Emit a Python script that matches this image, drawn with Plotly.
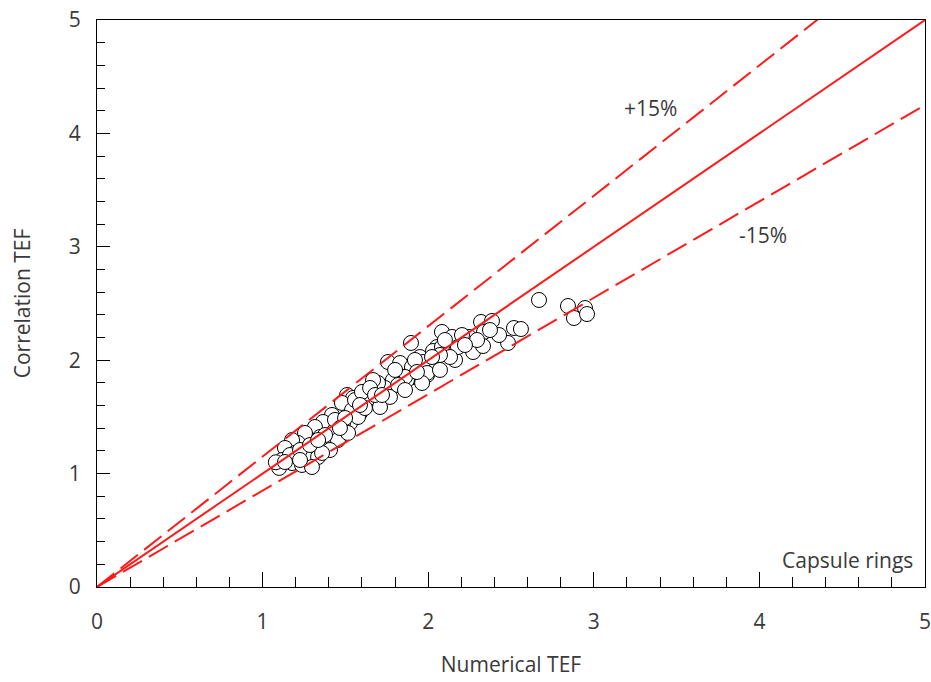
import plotly.graph_objects as go

# Numerical vs correlation thermal enhancement factor (TEF), capsule rings
numerical_tef = [
    2.669, 2.844, 2.947, 2.880, 2.959,
    1.896, 2.083, 2.319, 2.385, 2.337, 2.518, 2.560, 2.482, 2.428, 2.271,
    2.331, 2.246, 2.144, 2.162, 2.114, 2.053, 2.029, 1.950, 1.999, 1.908,
    1.993, 1.848, 1.872, 2.083, 2.180, 2.295, 2.132, 2.071, 1.969,
    1.757, 1.830, 2.023, 1.902, 1.993, 2.071, 1.963, 1.860, 1.787, 1.739,
    1.667, 1.697, 1.769, 1.630, 1.510, 1.546, 1.588, 1.486, 1.528, 1.709,
    1.667,
    1.546, 1.618, 1.479, 1.540, 1.419, 1.365, 1.486, 1.437, 1.316, 1.256,
    1.347, 1.389, 1.455, 1.516, 1.274, 1.214, 1.178, 1.135, 1.196, 1.256,
    1.335, 1.407, 1.117, 1.178, 1.100, 1.238, 1.298, 1.080, 1.359, 1.576,
    1.618,
    1.165, 1.226, 1.286, 1.377, 1.437, 1.498, 1.558, 1.600, 1.649, 1.679,
    1.800, 1.818, 1.920, 1.932, 2.101, 2.204, 2.222, 2.373, 1.226, 1.135,
    1.335, 1.467, 1.588, 1.721, 1.860,
]
correlation_tef = [
    2.531, 2.478, 2.460, 2.372, 2.407,
    2.152, 2.249, 2.337, 2.346, 2.249, 2.284, 2.275, 2.152, 2.222, 2.072,
    2.125, 2.205, 2.205, 2.002, 2.063, 2.116, 2.081, 2.028, 1.940, 1.852,
    1.869, 1.940, 1.825, 2.116, 2.116, 2.178, 2.028, 2.046, 1.984,
    1.984, 1.975, 2.028, 1.940, 1.887, 1.914, 1.799, 1.852, 1.825, 1.755,
    1.711, 1.799, 1.676, 1.649, 1.693, 1.605, 1.534, 1.534, 1.446, 1.587,
    1.825,
    1.667, 1.693, 1.623, 1.561, 1.517, 1.455, 1.446, 1.384, 1.411, 1.358,
    1.323, 1.270, 1.296, 1.358, 1.235, 1.270, 1.296, 1.226, 1.182, 1.146,
    1.146, 1.208, 1.120, 1.093, 1.050, 1.076, 1.058, 1.100, 1.182, 1.499,
    1.578,
    1.164, 1.208, 1.252, 1.340, 1.473, 1.490, 1.649, 1.720, 1.755, 1.693,
    1.914, 1.781, 2.002, 1.896, 2.178, 2.222, 2.134, 2.266, 1.120, 1.102,
    1.296, 1.402, 1.605, 1.693, 1.737,
]

# Reference lines: perfect agreement and the ±15 % band
ref_x = [0, 5]
ref_factors = [1.0, 1.15, 0.85]
ref_dash = ["solid", "22px,8px", "22px,8px"]

FONT = "Open Sans"
TEXT = "#3a3a3a"

fig = go.Figure()

fig.add_trace(go.Scatter(
    x=numerical_tef, y=correlation_tef, mode="markers",
    marker=dict(size=15, color="white", line=dict(color="black", width=1)),
    showlegend=False,
))

for f, d in zip(ref_factors, ref_dash):
    fig.add_trace(go.Scatter(
        x=ref_x, y=[v * f for v in ref_x], mode="lines",
        line=dict(color="#ff1a1a", width=2, dash=d),
        showlegend=False, hoverinfo="skip",
    ))

fig.add_annotation(x=3.34, y=4.22, text="+15%", showarrow=False,
                   font=dict(family=FONT, size=21, color=TEXT))
fig.add_annotation(x=4.02, y=3.10, text="-15%", showarrow=False,
                   font=dict(family=FONT, size=21, color=TEXT))
fig.add_annotation(x=4.94, y=0.235, text="Capsule rings", showarrow=False,
                   xanchor="right", font=dict(family=FONT, size=21, color=TEXT))

axis_common = dict(
    range=[0, 5], dtick=1, tick0=0, ticks="inside",
    showline=True, linecolor="black", linewidth=1, mirror=True,
    showgrid=False, zeroline=False, automargin=False,
    ticklabeloverflow="allow",
    tickfont=dict(family=FONT, size=21, color=TEXT),
    title_font=dict(family=FONT, size=21, color=TEXT),
)

fig.update_xaxes(
    **axis_common, ticklen=15, tickcolor="black",
    minor=dict(dtick=0.2, ticks="inside", ticklen=10, tickcolor="black"),
    ticklabelstandoff=16,
    title_text="Numerical TEF", title_standoff=23,
)
fig.update_yaxes(
    **axis_common, ticklen=13, tickcolor="black",
    minor=dict(dtick=0.2, ticks="inside", ticklen=8, tickcolor="black"),
    ticklabelstandoff=11,
    title_text="Correlation TEF", title_standoff=32,
)

fig.update_layout(
    width=931, height=682,
    margin=dict(l=97, r=6, t=20, b=95),
    plot_bgcolor="white", paper_bgcolor="white",
)

fig.write_html("out.html")
